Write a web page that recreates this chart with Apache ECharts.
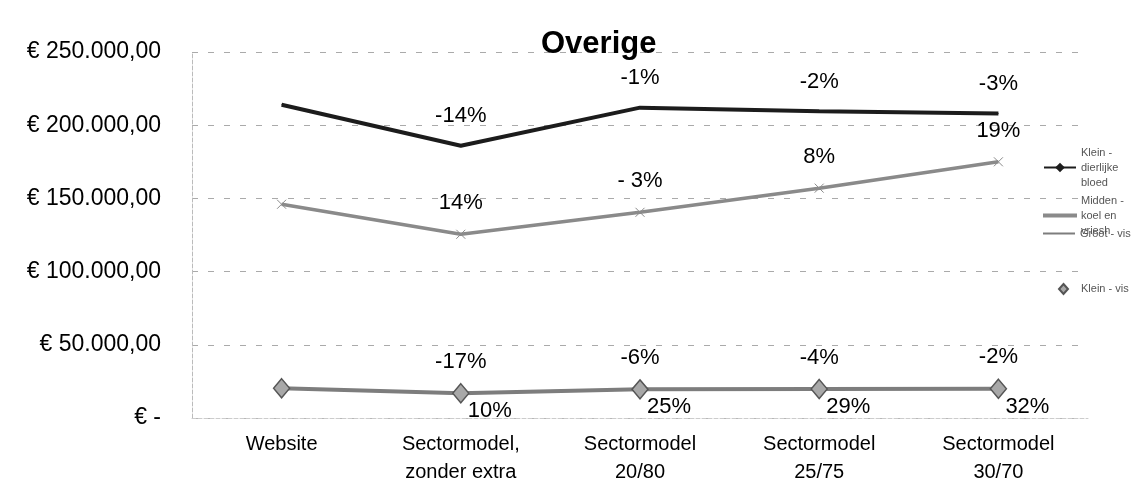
<!DOCTYPE html>
<html>
<head>
<meta charset="utf-8">
<script src="https://cdn.jsdelivr.net/npm/echarts@6/dist/echarts.min.js"></script>
<style>
  html, body { margin: 0; padding: 0; background: #fff; }
  #chart { width: 1140px; height: 489px; }
</style>
</head>
<body>
<div id="chart"></div>
<script>
const categories = ["Website", "Sectormodel,\nzonder extra", "Sectormodel\n20/80", "Sectormodel\n25/75", "Sectormodel\n30/70"];

const seriesNames = ["Klein - dierlijke bloed", "Midden - koel en vriesh", "Groot - vis", "Klein - vis"];
const legendText = ["Klein -\ndierlijke\nbloed", "Midden -\nkoel en\nvriesh", "Groot - vis", "Klein - vis"];

const kleinDierlijk = [214000, 186000, 212000, 209500, 208000];
const middenKoel = [146000, 125500, 140500, 157000, 175000];
const grootVis = [20300, 16900, 19600, 19800, 20000];
const kleinVis = [20300, 16900, 19600, 19800, 20000];

const kleinDierlijkLabels = ["", "-14%", "-1%", "-2%", "-3%"];
const middenKoelLabels = ["", "14%", "- 3%", "8%", "19%"];
const grootVisLabels = ["", "-17%", "-6%", "-4%", "-2%"];
const kleinVisLabels = ["", "10%", "25%", "29%", "32%"];

const yTicks = { min: 0, max: 250000, interval: 50000 };

const FONT = "Liberation Sans, Arial, sans-serif";

function euro(v) {
  if (v === 0) return "€ -";
  return "€ " + v.toLocaleString("de-DE", { minimumFractionDigits: 2, maximumFractionDigits: 2 });
}

function labelFrom(arr) {
  return (p) => arr[p.dataIndex];
}

const labelStyle = { fontFamily: FONT, fontSize: 22, color: "#000" };

const chart = echarts.init(document.getElementById("chart"));

// one legend block per series, stacked like the original
const legendSetup = [
  { left: 1038, top: 142, itemWidth: 32, itemHeight: 12 },
  { left: 1038, top: 190, itemWidth: 32, itemHeight: 2, icon: "rect" },
  { left: 1038, top: 223, itemWidth: 32, itemHeight: 2, icon: "rect" },
  { left: 1053, top: 278, itemWidth: 9, itemHeight: 10, icon: "diamond" }
];

chart.setOption({
  animation: false,
  backgroundColor: "#fff",
  title: {
    text: "Overige",
    left: 536,
    top: 24,
    textStyle: { fontFamily: FONT, fontSize: 31, fontWeight: "bold", color: "#000" }
  },
  legend: seriesNames.map((name, i) => ({
    data: [name],
    orient: "vertical",
    left: legendSetup[i].left,
    top: legendSetup[i].top,
    itemWidth: legendSetup[i].itemWidth,
    itemHeight: legendSetup[i].itemHeight,
    icon: legendSetup[i].icon,
    formatter: () => legendText[i],
    textStyle: {
      fontFamily: FONT, fontSize: 11, color: "#555",
      lineHeight: 15, verticalAlign: "top",
      padding: [-7, 0, 0, i === 3 ? 8 : 0]
    }
  })),
  grid: { left: 192, right: 52, top: 52, bottom: 71, containLabel: false },
  xAxis: {
    type: "category",
    data: categories,
    boundaryGap: true,
    axisLine: { show: true, lineStyle: { color: "#ccc", type: "dashed" } },
    axisTick: { show: false },
    axisLabel: { fontFamily: FONT, fontSize: 20, color: "#000", lineHeight: 28, margin: 12, interval: 0 }
  },
  yAxis: {
    type: "value",
    min: yTicks.min,
    max: yTicks.max,
    interval: yTicks.interval,
    axisLine: { show: true, lineStyle: { color: "#bbb", type: "dashed" } },
    axisTick: { show: false },
    splitLine: { lineStyle: { color: "#aaa", type: [6, 10], width: 1 } },
    axisLabel: { fontFamily: FONT, fontSize: 23, color: "#000", margin: 31, formatter: euro }
  },
  series: [
    {
      name: seriesNames[0],
      type: "line",
      data: kleinDierlijk,
      symbol: "diamond",
      symbolSize: 1,
      lineStyle: { color: "#1c1c1c", width: 4 },
      itemStyle: { color: "#1c1c1c" },
      label: { show: true, position: "top", distance: 18, formatter: labelFrom(kleinDierlijkLabels), ...labelStyle },
      z: 4
    },
    {
      name: seriesNames[1],
      type: "line",
      data: middenKoel,
      symbol: "path://M0,0L10,10M10,0L0,10",
      symbolSize: 9,
      lineStyle: { color: "#8a8a8a", width: 3.5 },
      itemStyle: { color: "#8a8a8a", borderColor: "#8a8a8a", borderWidth: 1 },
      label: { show: true, position: "top", distance: 15, formatter: labelFrom(middenKoelLabels), ...labelStyle },
      z: 3
    },
    {
      name: seriesNames[2],
      type: "line",
      data: grootVis,
      symbol: "circle",
      symbolSize: 1,
      lineStyle: { color: "#7d7d7d", width: 4 },
      itemStyle: { color: "#7d7d7d" },
      label: { show: true, position: "top", distance: 20, formatter: labelFrom(grootVisLabels), ...labelStyle },
      z: 2
    },
    {
      name: seriesNames[3],
      type: "scatter",
      data: kleinVis,
      symbol: "diamond",
      symbolSize: [16, 19],
      itemStyle: { color: "#a8a8a8", borderColor: "#555", borderWidth: 1.5, opacity: 1 },
      label: { show: true, position: "inside", offset: [29, 18], formatter: labelFrom(kleinVisLabels), ...labelStyle },
      z: 5
    }
  ]
});
</script>
</body>
</html>
